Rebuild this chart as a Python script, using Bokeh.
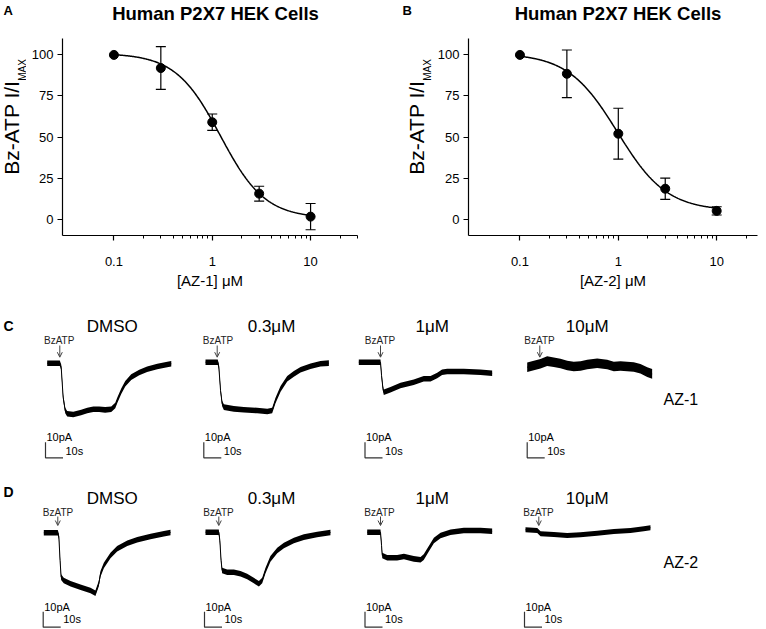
import numpy as np
from math import pi
from bokeh.plotting import figure
from bokeh.models import (Range1d, FixedTicker, Label, Whisker, TeeHead, ColumnDataSource,
                          Arrow, OpenHead, CustomJSTickFormatter)
from bokeh.layouts import row, column
from bokeh.embed import file_html
from bokeh.resources import INLINE

FONT = "Liberation Sans"

# ---------------- Panel A / B : concentration-response ----------------
conc = [0.1, 0.3, 1, 3, 10]
az1_mean = [100, 92, 59, 15.5, 1.5]
az1_sem = [0, 13, 5, 4.5, 8]
az2_mean = [100, 88.5, 52, 18.5, 5]
az2_sem = [0, 14.5, 15.5, 6.5, 2.5]
# Hill fit parameters: top, bottom, IC50 (uM), slope
az1_fit = [101, 0.5, 1.21, 1.91]
az2_fit = [101, 5.0, 0.98, 1.73]
x_major = [0.1, 1, 10]
x_minor = [0.2, 0.3, 0.4, 0.5, 0.6, 0.7, 0.8, 0.9, 2, 3, 4, 5, 6, 7, 8, 9, 20, 30]
y_major = [0, 25, 50, 75, 100]

# ---------------- Panels C / D : current traces (t in s, I in pA) ----------------
c1_t = [0, 7.2, 8.0, 9.1, 10.3, 11.4, 14.9, 19.4, 22.9, 26.3, 29.7, 33.1, 36.6, 38.9, 40.0, 42.3, 44.6, 48.0, 52.6, 57.1, 62.9, 68.6, 70.9]
c1_i = [0, 0, -2.6, -21.9, -30.5, -32.6, -33.1, -31.8, -30.5, -29.7, -29.7, -30.1, -29.7, -27.3, -24.1, -18.1, -13.3, -9.0, -6.0, -3.9, -2.1, -0.8, -0.4]
c2_t = [0, 7.0, 7.6, 8.6, 9.5, 10.5, 16.2, 21.9, 29.5, 35.3, 38.1, 40.0, 42.9, 46.7, 50.5, 54.3, 60.0, 65.7, 70.5]
c2_i = [0, 0, -2.8, -18.3, -26.6, -29.0, -30.1, -30.7, -31.2, -31.8, -31.2, -24.7, -17.2, -10.7, -7.5, -4.9, -2.6, -1.0, -0.6]
c3_t = [0, 12.4, 13.0, 13.8, 14.3, 18.1, 23.8, 31.4, 37.1, 41.0, 44.8, 47.6, 50.5, 60.0, 69.5, 76.2]
c3_i = [0, 0, -8.6, -17.0, -19.4, -17.8, -15.0, -12.9, -10.7, -10.7, -8.6, -6.5, -6.0, -6.0, -6.5, -7.1]
c4_t = [0, 3.8, 7.6, 11.4, 15.2, 19.0, 22.9, 26.6, 30.5, 34.3, 40.0, 45.7, 49.5, 53.3, 60.9, 64.7, 68.6, 71.4]
c4_i = [-1.1, 0, 1.1, 2.8, 2.1, 1.3, 0, -0.6, -0.3, 0.6, 1.5, 0.6, -0.6, -0.3, -1.0, -2.1, -4.3, -5.4]

d1_t = [0, 8.0, 8.6, 9.3, 9.9, 11.4, 15.3, 21.0, 26.7, 29.5, 31.4, 32.4, 34.3, 38.1, 41.9, 47.7, 53.4, 61.0, 68.6, 72.4]
d1_i = [0, 0, -2.4, -17.9, -28.6, -30.8, -32.9, -35.1, -37.2, -39.0, -32.9, -26.5, -21.1, -14.6, -10.3, -6.7, -4.5, -2.4, -0.6, 0.2]
d2_t = [0, 7.6, 8.2, 8.9, 9.5, 12.4, 16.2, 20.0, 23.8, 27.6, 30.5, 32.4, 34.3, 37.1, 41.0, 44.8, 50.5, 56.2, 63.8, 71.4]
d2_i = [0, 0, -5.4, -18.3, -24.7, -25.8, -25.8, -26.8, -28.6, -31.2, -33.3, -31.2, -24.7, -17.2, -11.8, -8.6, -5.4, -3.2, -1.5, -0.2]
d3_t = [0, 7.6, 8.2, 8.6, 11.4, 17.1, 21.0, 26.6, 30.5, 32.3, 35.2, 38.1, 41.9, 47.6, 55.2, 64.7, 71.4]
d3_i = [0, 0, -8.6, -15.0, -16.5, -16.5, -15.7, -17.2, -17.8, -16.1, -10.7, -5.4, -2.1, 0, 1.1, 1.1, 0.6]
d4_t = [0, 6.7, 8.6, 16.2, 23.8, 31.4, 41.0, 50.5, 60.0, 67.6, 71.4]
d4_i = [0, -0.5, -2.6, -3.0, -3.7, -3.2, -2.2, -1.1, -0.5, 0.6, 1.3]

doses = ["DMSO", "0.3\u03bcM", "1\u03bcM", "10\u03bcM"]
SCALE_PA = 10
SCALE_S = 10


# ---------------- helpers ----------------
def lbl(p, x, y, text, size, **kw):
    kw.setdefault("text_align", "center")
    kw.setdefault("text_baseline", "middle")
    kw.setdefault("text_color", "black")
    p.add_layout(Label(x=x, y=y, text=text, text_font=FONT, text_font_size=size, **kw))


def blank_fig(w, h):
    # a plain drawing area whose range is its own pixel grid (used for free texts)
    p = figure(width=w, height=h, x_range=Range1d(0, w), y_range=Range1d(h, 0),
               x_axis_type=None, y_axis_type=None, min_border=0,
               output_backend="svg", toolbar_location=None)
    p.outline_line_color = None
    p.grid.visible = False
    return p


def dose_fig(width, bl, br, xmax, mean, sem, fit, xlabel):
    frame_h = 197
    p = figure(width=width, height=258, x_axis_type="log", x_range=Range1d(0.03, xmax),
               y_range=Range1d(-10, 110), min_border_left=bl, min_border_right=br,
               min_border_top=0, min_border_bottom=258 - frame_h,
               output_backend="svg", toolbar_location=None)
    p.grid.visible = False
    p.outline_line_color = None
    for ax in p.axis:
        ax.axis_line_width = 1.2
        ax.major_tick_line_width = 1.2
        ax.minor_tick_line_width = 1.0
        ax.major_tick_in = 0
        ax.major_tick_out = 5
        ax.minor_tick_in = 0
        ax.minor_tick_out = 3
        ax.major_label_text_font = FONT
        ax.major_label_text_font_size = "13px"
        ax.major_label_text_color = "black"
    p.xaxis.ticker = FixedTicker(ticks=x_major, minor_ticks=x_minor)
    p.xaxis.formatter = CustomJSTickFormatter(code="return String(tick);")
    p.xaxis.major_label_standoff = 16
    p.xaxis.axis_label = xlabel
    p.xaxis.axis_label_text_font = FONT
    p.xaxis.axis_label_text_font_style = "normal"
    p.xaxis.axis_label_text_font_size = "15px"
    p.xaxis.axis_label_text_color = "black"
    p.xaxis.axis_label_standoff = 3
    p.yaxis.ticker = FixedTicker(ticks=y_major, minor_ticks=[])
    p.yaxis.major_label_standoff = 4

    top, bottom, ic50, n = fit
    xs = np.logspace(-1, 1, 300)
    ys = bottom + (top - bottom) / (1 + (xs / ic50) ** n)
    p.line(xs, ys, line_color="black", line_width=1.5)

    xe = [c for c, s in zip(conc, sem) if s > 0]
    up = [m + s for m, s in zip(mean, sem) if s > 0]
    lo = [m - s for m, s in zip(mean, sem) if s > 0]
    src = ColumnDataSource(dict(x=xe, upper=up, lower=lo))
    p.add_layout(Whisker(source=src, base="x", upper="upper", lower="lower", dimension="height",
                         line_color="black", line_width=1.2,
                         upper_head=TeeHead(size=10, line_width=1.2, line_color="black"),
                         lower_head=TeeHead(size=10, line_width=1.2, line_color="black")))
    p.scatter(conc, mean, size=9, color="black")
    return p


def title_fig(w, letter, letter_x, title_cx):
    p = blank_fig(w, 38)
    lbl(p, letter_x, 10, letter, "13px", text_align="left", text_font_style="bold")
    lbl(p, title_cx, 13, "Human P2X7 HEK Cells", "18.5px", text_font_style="bold")
    return p


def ylabel_fig(w, x_main, x_sub):
    p = blank_fig(w, 258)
    lbl(p, x_main, 55.3, "Bz-ATP I/I", "21px", angle=pi / 2, text_align="right")
    lbl(p, x_sub, 55.3, "MAX", "10px", angle=pi / 2, text_align="left")
    return p


figA = dose_fig(364, 36, 33, 30, az1_mean, az1_sem, az1_fit, "[AZ-1] \u03bcM")
figB = dose_fig(332, 34, 9, 26, az2_mean, az2_sem, az2_fit, "[AZ-2] \u03bcM")
colA = column(title_fig(390, "A", 3, 215), row(ylabel_fig(26, 11, 21.5), figA))
colB = column(title_fig(376, "B", 12, 227.5), row(ylabel_fig(44, 26.3, 37), figB))

PXS = 1.75   # px per s
PXA = 1.55   # px per pA


def trace_fig(left, width, top, height, x0, yb, t, i, half_px, dose, geo, rowy, extra=None):
    xr = Range1d((left - x0) / PXS, (left + width - x0) / PXS)
    yr = Range1d(-(top + height - yb) / PXA, (yb - top) / PXA)
    p = figure(width=width, height=height, x_range=xr, y_range=yr, x_axis_type=None,
               y_axis_type=None, min_border=0, output_backend="svg", toolbar_location=None)
    p.grid.visible = False
    p.outline_line_color = None
    tx = lambda px: (px - x0) / PXS
    iy = lambda py: -(py - yb) / PXA
    h = half_px / PXA
    ia = np.asarray(i, dtype=float)
    p.varea(x=t, y1=ia - h, y2=ia + h, fill_color="black")
    p.line(t, i, line_color="black", line_width=1.0)

    title_x, bz_x, arrow_x, bar_x = geo
    ty, bzy, ay0, ay1, bar_y, pa_y, s_y = rowy
    lbl(p, tx(title_x), iy(ty), dose, "17px")
    lbl(p, tx(bz_x), iy(bzy), "BzATP", "10px", text_color="#222222")
    p.add_layout(Arrow(end=OpenHead(size=5, line_color="#444444", line_width=1),
                       x_start=tx(arrow_x), y_start=iy(ay0), x_end=tx(arrow_x), y_end=iy(ay1),
                       line_color="#444444", line_width=1))
    bx, by = tx(bar_x), iy(bar_y)
    p.line([bx, bx, bx + SCALE_S], [by + SCALE_PA, by, by], line_color="#333333", line_width=1.2)
    lbl(p, tx(bar_x + 1), iy(pa_y), "10pA", "11px", text_align="left")
    lbl(p, tx(bar_x + 20), iy(s_y), "10s", "11px", text_align="left")
    if extra:
        for (px, py, txt, size, style) in extra:
            lbl(p, tx(px), iy(py), txt, size, text_align="left", text_font_style=style)
    return p


lefts = [0, 190, 345, 512]
widths = [190, 155, 167, 254]
geoC = [(111.7, 58.7, 59.3, 45), (271, 217.5, 216.7, 203.3), (431.7, 379.5, 380, 364.5), (586.7, 539, 539.3, 526.7)]
geoD = [(111.7, 57.5, 57.3, 42.7), (271, 218, 218.3, 204), (431.7, 379, 380, 364.5), (586.7, 538, 538.3, 524)]
rowC_y = (325.7, 340.3, 345, 356.7, 457.3, 436, 450)
rowD_y = (497.5, 511.5, 516, 525, 626.7, 606.7, 618.3)
anchC = [(46.7, 362.7), (205, 361.7), (358.3, 361.7), (526.7, 365)]
anchD = [(43.3, 532.3), (205, 531.7), (366.7, 531.7), (525, 529.3)]
C_data = [(c1_t, c1_i), (c2_t, c2_i), (c3_t, c3_i), (c4_t, c4_i)]
D_data = [(d1_t, d1_i), (d2_t, d2_i), (d3_t, d3_i), (d4_t, d4_i)]
halfC = [2.8, 2.8, 2.8, 4.8]
halfD = [2.8, 2.8, 2.8, 2.5]

rowC_figs, rowD_figs = [], []
for k in range(4):
    exC = [(3, 325, "C", "14px", "bold")] if k == 0 else ([(663, 399, "AZ-1", "16px", "normal")] if k == 3 else None)
    exD = [(3, 491, "D", "14px", "bold")] if k == 0 else ([(663, 561.7, "AZ-2", "16px", "normal")] if k == 3 else None)
    rowC_figs.append(trace_fig(lefts[k], widths[k], 296, 169, anchC[k][0], anchC[k][1],
                               C_data[k][0], C_data[k][1], halfC[k], doses[k], geoC[k], rowC_y, exC))
    rowD_figs.append(trace_fig(lefts[k], widths[k], 465, 164, anchD[k][0], anchD[k][1],
                               D_data[k][0], D_data[k][1], halfD[k], doses[k], geoD[k], rowD_y, exD))

layout = column(row(colA, colB), row(*rowC_figs), row(*rowD_figs))

with open("out.html", "w") as f:
    f.write(file_html(layout, INLINE))
